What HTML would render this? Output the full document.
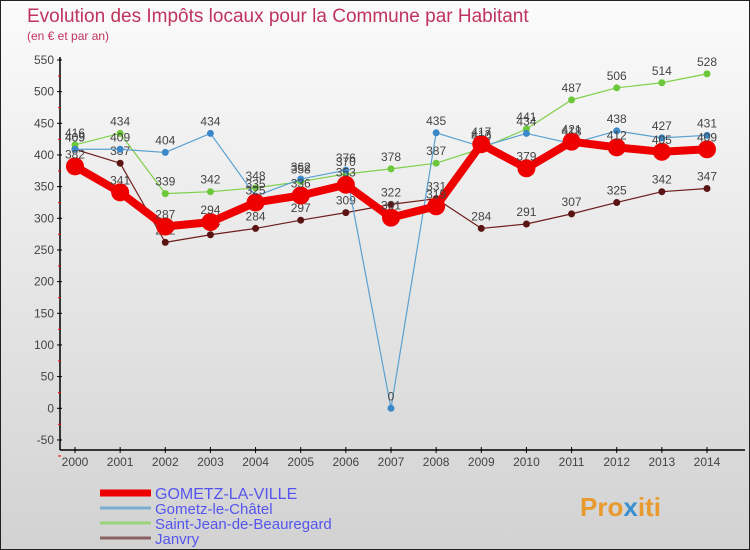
<!DOCTYPE html>
<html><head><meta charset="utf-8"><style>
body{margin:0}
#wrap{width:750px;height:550px;position:relative;overflow:hidden;font-family:"Liberation Sans",sans-serif}
</style></head><body>
<div id="wrap">
<svg id="chart" width="750" height="550">
<defs><linearGradient id="bg" x1="0" y1="0" x2="0" y2="1"><stop offset="0" stop-color="#fbfbfb"/><stop offset="1" stop-color="#d2d2d2"/></linearGradient></defs>
<rect x="0.5" y="0.5" width="749" height="549" fill="url(#bg)" stroke="#222"/>
<text x="27" y="22" font-size="19" fill="#c0335e">Evolution des Impôts locaux pour la Commune par Habitant</text>
<text x="27" y="40" font-size="12" fill="#c0335e">(en € et par an)</text>
<g id="axes"></g><g id="series"></g><g id="legend"></g>
<text x="580" y="516" font-size="26" font-weight="bold" fill="#e89a2c">Pro<tspan fill="#3a8fd0">x</tspan>iti</text>
</svg></div>
<script>
const years=[2000,2001,2002,2003,2004,2005,2006,2007,2008,2009,2010,2011,2012,2013,2014];
const yTicks=[-50,0,50,100,150,200,250,300,350,400,450,500,550];
const gometzVille=[382,341,287,294,325,336,353,301,319,417,379,421,412,405,409];
const gometzChatel=[409,409,404,434,335,362,376,0,435,413,434,418,438,427,431];
const saintJean=[416,434,339,342,348,358,370,378,387,410,441,487,506,514,528];
const janvry=[409,387,262,274,284,297,309,322,331,284,291,307,325,342,347];
const seriesNames=["GOMETZ-LA-VILLE","Gometz-le-Châtel","Saint-Jean-de-Beauregard","Janvry"];
const NS="http://www.w3.org/2000/svg";
const xs=i=>75+i*(632/14);
const ys=v=>408.3-v*(380/600);
function mk(tag,attrs,parent){const e=document.createElementNS(NS,tag);for(const k in attrs)e.setAttribute(k,attrs[k]);parent.appendChild(e);return e;}
const axes=document.getElementById('axes');
let yl=mk('line',{x1:60,y1:57,x2:60,y2:450,stroke:'#000','stroke-width':1.5},axes);


let xl=mk('line',{x1:60,y1:450,x2:745,y2:450,stroke:'#000','stroke-width':1.5},axes);


yTicks.forEach(v=>{const y=ys(v);
 mk('line',{x1:57,y1:y,x2:62,y2:y,stroke:'#000'},axes);
 mk('line',{x1:58,y1:y+16,x2:61,y2:y+16,stroke:'#e00'},axes);
 const t=mk('text',{x:54,y:y+4,'text-anchor':'end','font-size':12,fill:'#444'},axes);t.textContent=v;
 
 });
years.forEach((yr,i)=>{const x=xs(i);
 mk('line',{x1:x,y1:447,x2:x,y2:453,stroke:'#000'},axes);
 const t=mk('text',{x:x,y:466,'text-anchor':'middle','font-size':12,fill:'#444'},axes);t.textContent=yr;
 
 });
const ser=document.getElementById('series');
const defs=[[janvry,'#6e1c1c','#5a1414',1.2,3.5,'janvry'],[saintJean,'#7fd04a','#6cc83a',1.2,3.5,'saint-jean'],[gometzChatel,'#5aa0d0','#3a88c8',1.2,3.5,'gometz-le-chatel'],[gometzVille,'#ee0000','#ee0000',8,9,'gometz-la-ville']];
defs.forEach(([d,lc,pc,w,r,nm])=>{
 const g=mk('g',{},ser);
 
 
 const p=mk('polyline',{points:d.map((v,i)=>xs(i)+','+ys(v)).join(' '),fill:'none',stroke:lc,'stroke-width':w,'stroke-linejoin':'round'},g);
 
 
 d.forEach((v,i)=>{const c=mk('circle',{cx:xs(i),cy:ys(v),r:r,fill:pc},g);
  
  
  const t=mk('text',{x:xs(i),y:ys(v)-8,'text-anchor':'middle','font-size':12,fill:'#444'},g);t.textContent=v;
  
  });
});
const leg=document.getElementById('legend');
const lc=['#ee0000','#7aaed0','#9ad47a','#8a6060'],lw=[7,3,3,3];
seriesNames.forEach((n,i)=>{const y=493+i*15;
 const l=mk('line',{x1:100,y1:y,x2:151,y2:y,stroke:lc[i],'stroke-width':lw[i]},leg);
 
 
 const t=mk('text',{x:155,y:y+6,'font-size':i==0?16:15,fill:'#5555ee'},leg);t.textContent=n;
 
 });
</script>
</body></html>
